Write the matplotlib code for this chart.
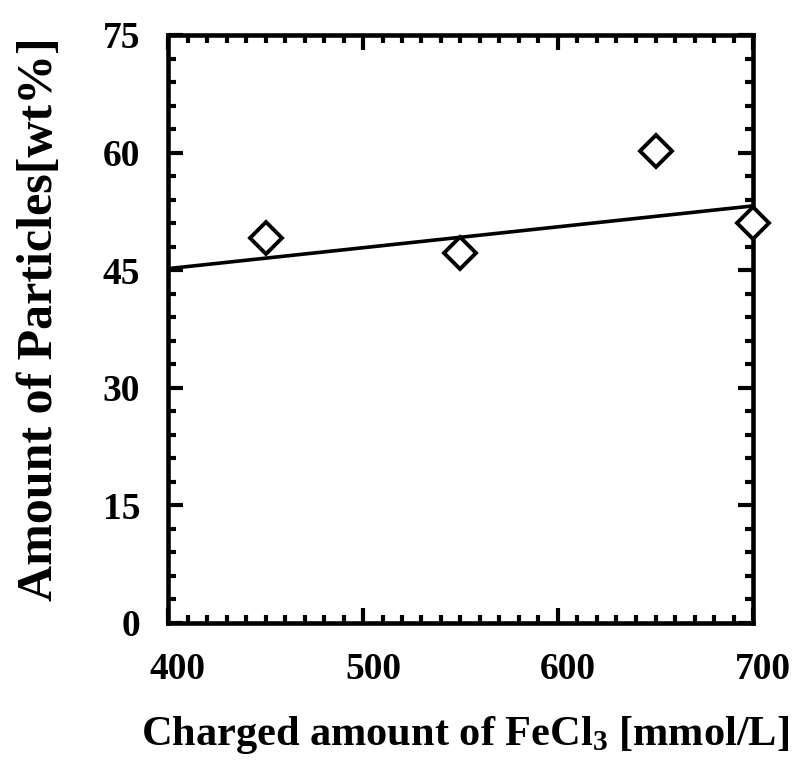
import matplotlib
matplotlib.use("Agg")
import matplotlib.pyplot as plt
from matplotlib.ticker import MultipleLocator
from matplotlib.transforms import ScaledTranslation

# Data
fecl3 = [450, 550, 650, 700]
particles = [49.1, 47.2, 60.2, 51.0]
fit_x = [400, 700]
fit_y = [45.2, 53.2]
x_ticks = [400, 500, 600, 700]
y_ticks = [0, 15, 30, 45, 60, 75]

plt.rcParams['font.family'] = ['Liberation Serif', 'DejaVu Serif']
plt.rcParams['font.weight'] = 'bold'
plt.rcParams['mathtext.fontset'] = 'custom'
plt.rcParams['mathtext.rm'] = 'Liberation Serif:bold'
plt.rcParams['mathtext.it'] = 'Liberation Serif:bold'
plt.rcParams['mathtext.bf'] = 'Liberation Serif:bold'

fig = plt.figure(figsize=(7.99, 7.71), dpi=100)
ax = fig.add_axes([168/799, 1-623/771, (753-168)/799, (623-35)/771])

ax.plot(fit_x, fit_y, color='black', lw=2.6, zorder=2)
ax.plot(fecl3, particles, linestyle='none', marker='D', ms=16, mfc='white',
        mec='black', mew=2.8, zorder=3, clip_on=False)

ax.set_xlim(400, 700)
ax.set_ylim(0, 75)
ax.set_xticks(x_ticks)
ax.set_yticks(y_ticks)
ax.xaxis.set_minor_locator(MultipleLocator(10))
ax.yaxis.set_minor_locator(MultipleLocator(3))

for s in ax.spines.values():
    s.set_linewidth(3.3)
ax.tick_params(which='both', direction='in', top=True, right=True, width=3)
ax.tick_params(which='major', length=11)
ax.tick_params(which='minor', length=6)
ax.tick_params(axis='x', which='major', labelsize=27, pad=21)
ax.tick_params(axis='y', which='major', labelsize=27, pad=20)

shift = ScaledTranslation(10/100, 0, fig.dpi_scale_trans)
for lab in ax.get_xticklabels():
    lab.set_fontweight('bold')
    lab.set_transform(lab.get_transform() + shift)
for lab in ax.get_yticklabels():
    lab.set_fontweight('bold')

fig.text(0.582, 1-745/771, r'Charged amount of FeCl$_{3}$ [mmol/L]',
         ha='center', va='baseline', fontsize=30.5, fontweight='bold')
fig.text(0.050, 1-319/771, 'Amount of Particles[wt%]', rotation=90,
         ha='center', va='center', fontsize=36, fontweight='bold')

fig.savefig('out.png', dpi=100)
